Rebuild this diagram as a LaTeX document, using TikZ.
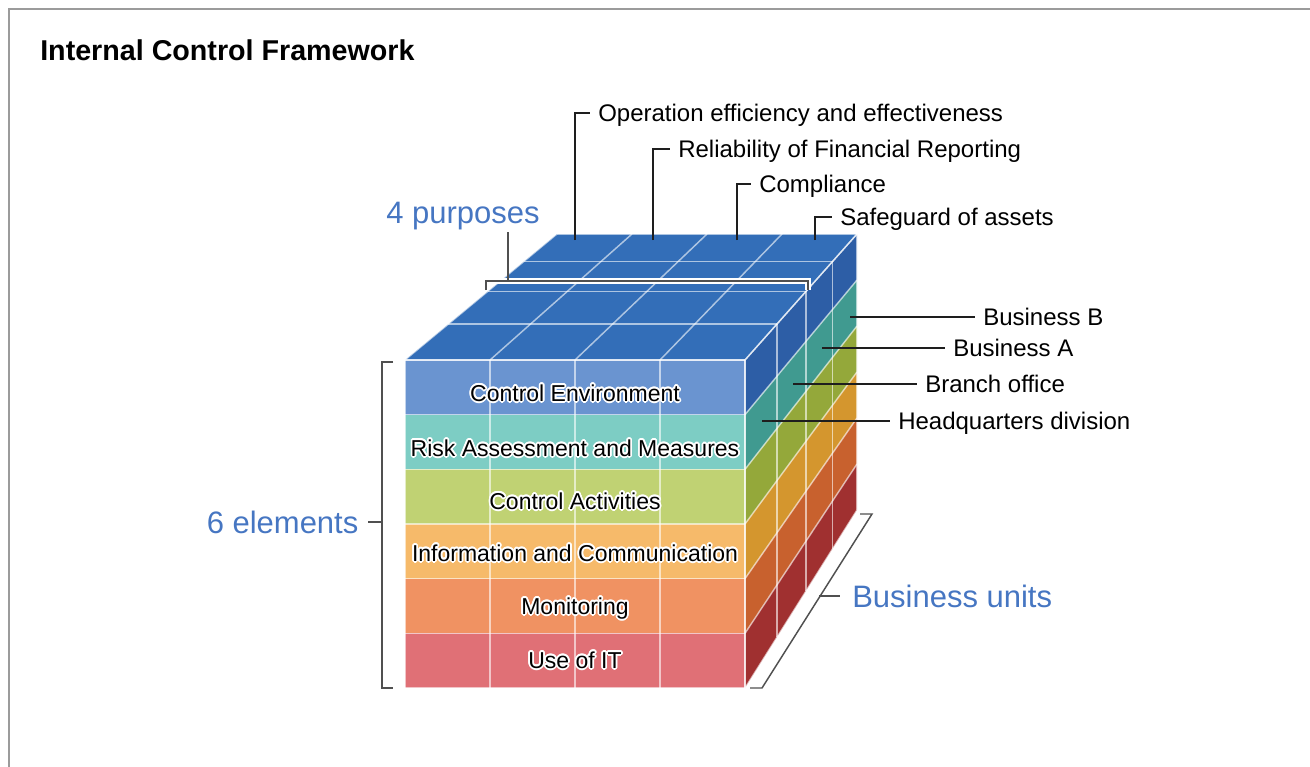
\documentclass[tikz,border=0pt]{standalone}
\usepackage{fontspec}
\setmainfont{Liberation Sans}
\usepackage{contour}
\usepackage{tikz}
\usetikzlibrary{calc}
\usetikzlibrary{positioning}

\definecolor{topblue}{RGB}{51,110,184}
\definecolor{fce}{RGB}{106,148,208}
\definecolor{fra}{RGB}{125,205,196}
\definecolor{fca}{RGB}{192,210,115}
\definecolor{fic}{RGB}{246,186,106}
\definecolor{fmo}{RGB}{240,146,98}
\definecolor{fit}{RGB}{224,112,118}
\definecolor{rce}{RGB}{45,94,166}
\definecolor{rra}{RGB}{64,154,144}
\definecolor{rca}{RGB}{148,168,58}
\definecolor{ric}{RGB}{212,150,46}
\definecolor{rmo}{RGB}{200,97,46}
\definecolor{rit}{RGB}{160,48,48}
\definecolor{bluelab}{RGB}{70,118,194}
\definecolor{framegray}{RGB}{155,155,155}

\contourlength{1.3pt}

\tikzset{
  cubeline/.style={draw=white, draw opacity=0.6, line width=1.1pt},
  leader/.style={draw={rgb,255:red,30;green,30;blue,30}, line width=1.4pt},
  brack/.style={draw={rgb,255:red,80;green,80;blue,80}, line width=1.1pt},
  lbl/.style={anchor=west, inner xsep=6pt, inner ysep=0pt, text height=13pt, text depth=0pt, font=\fontsize{18}{21}\selectfont},
  rowtxt/.style={inner sep=0pt, text height=12.4pt, text depth=0pt, font=\fontsize{17.25}{20}\selectfont},
  bigblue/.style={text=bluelab, inner xsep=7pt, inner ysep=0pt, text height=16.7pt, text depth=0pt, font=\fontsize{23.25}{28}\selectfont},
}

\begin{document}
\begin{tikzpicture}[x=0.75pt,y=0.75pt,yscale=-1,xscale=1]
\useasboundingbox (0,0) rectangle (1310,767);

%Frame
\draw [framegray, line width=1.5pt] (9,767) -- (9,9) -- (1310,9) ;

% Text Node
\node [anchor=west, inner sep=0pt, text height=15.5pt, text depth=0pt, font=\bfseries\fontsize{21.5}{25}\selectfont] (title) at (40,50) {Internal Control Framework};

%Cube points: column u, row v, depth w
\foreach \u in {0,...,4}{
  \foreach \v in {0,...,6}{
    \foreach \w in {0,...,4}{
      \pgfmathsetmacro{\f}{0.3*\w/(1+0.05*\w)}
      \pgfmathsetmacro{\px}{(1-\f)*(405+85*\u)+\f*(557+75*\u)}
      \pgfmathsetmacro{\py}{(1-\f)*(360+54.667*\v)+\f*(234+46*\v)}
      \coordinate (c\u\v\w) at (\px,\py);
    }
  }
}

%Top face
\fill [topblue] (c000) -- (c400) -- (c404) -- (c004) -- cycle;
%Front and right faces
\foreach \v/\fcol/\rcol [evaluate=\v as \vv using int(\v+1)] in {0/fce/rce,1/fra/rra,2/fca/rca,3/fic/ric,4/fmo/rmo,5/fit/rit}{
  \fill [\fcol] (c0\v0) -- (c4\v0) -- (c4\vv0) -- (c0\vv0) -- cycle;
  \fill [\rcol] (c4\v0) -- (c4\v4) -- (c4\vv4) -- (c4\vv0) -- cycle;
}

%Cube lines
\foreach \i in {0,...,4}{
  \draw [cubeline] (c\i00) -- (c\i04);
  \draw [cubeline] (c00\i) -- (c40\i);
  \draw [cubeline] (c\i00) -- (c\i60);
  \draw [cubeline] (c40\i) -- (c46\i);
}
\foreach \v in {0,...,6}{
  \draw [cubeline] (c0\v0) -- (c4\v0);
  \draw [cubeline] (c4\v0) -- (c4\v4);
}

% Text Node
\node [rowtxt] (env) at (575,393) {\contour{white}{Control Environment}};
% Text Node
\node [rowtxt] (risk) at (575,448) {\contour{white}{Risk Assessment and Measures}};
% Text Node
\node [rowtxt] (act) at (575,501) {\contour{white}{Control Activities}};
% Text Node
\node [rowtxt] (info) at (575,553) {\contour{white}{Information and Communication}};
% Text Node
\node [rowtxt] (mon) at (575,606) {\contour{white}{Monitoring}};
% Text Node
\node [rowtxt] (useit) at (575,660) {\contour{white}{Use of IT}};

%Purposes bracket
\coordinate (pbl) at (486,290);
\coordinate (pbr) at (808,290);
\coordinate (pstem) at (508,281);
\draw [white, line width=4.5pt] (pbl) -- (486,281) -- (808,281) -- (pbr) ;
\draw [brack] (pbl) -- (486,281) -- (808,281) -- (pbr) ;
% Text Node
\node [bigblue, anchor=west, inner xsep=0pt] (purp) at (386,212) {4 purposes};
\draw [brack] (pstem) -- (pstem |- 0,232) ;

%Elements bracket
\coordinate (etop) at (393,362);
\coordinate (ebot) at (393,688);
\coordinate (emid) at (382,522);
\draw [brack] (etop) -- (382,362) -- (382,688) -- (ebot) ;
% Text Node
\node [bigblue, anchor=east] (elem) at (368,522) {6 elements};
\draw [brack] (emid) -- (elem.east) ;

%Business units bracket
\coordinate (btop) at (860,514);
\coordinate (bbot) at (750,688);
\coordinate (bmid) at (819,596);
\draw [brack] (btop) -- (872,514) -- (762,688) -- (bbot) ;
% Text Node
\node [bigblue, anchor=west, inner xsep=9pt] (units) at (840,596) {Business units};
\draw [brack] (bmid) -- (units.west) ;

%Purpose leaders
\coordinate (p1) at (575,240);
\coordinate (p2) at (653,240);
\coordinate (p3) at (737,240);
\coordinate (p4) at (815,240);
% Text Node
\node [lbl] (oper) at (590,113) {Operation efficiency and effectiveness};
% Text Node
\node [lbl] (rel) at (670,149) {Reliability of Financial Reporting};
% Text Node
\node [lbl] (comp) at (751,184) {Compliance};
% Text Node
\node [lbl] (safe) at (832,217) {Safeguard of assets};
\draw [leader] (p1) |- (oper.west) ;
\draw [leader] (p2) |- (rel.west) ;
\draw [leader] (p3) |- (comp.west) ;
\draw [leader] (p4) |- (safe.west) ;

%Business leaders
\coordinate (b1) at (850,317);
\coordinate (b2) at (822,348);
\coordinate (b3) at (793,384);
\coordinate (b4) at (762,421);
% Text Node
\node [lbl] (busb) at (975,317) {Business B};
% Text Node
\node [lbl] (busa) at (945,348) {Business A};
% Text Node
\node [lbl] (branch) at (917,384) {Branch office};
% Text Node
\node [lbl] (hq) at (890,421) {Headquarters division};
\draw [leader] (b1) -- (busb.west) ;
\draw [leader] (b2) -- (busa.west) ;
\draw [leader] (b3) -- (branch.west) ;
\draw [leader] (b4) -- (hq.west) ;

\end{tikzpicture}
\end{document}
